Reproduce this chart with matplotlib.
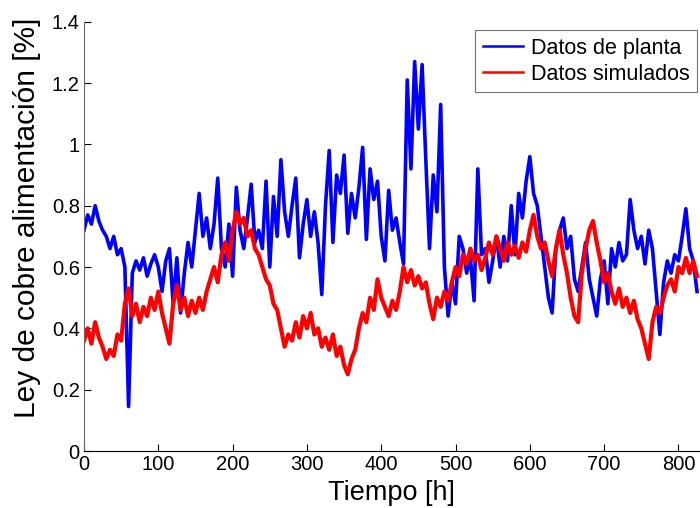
import numpy as np
import matplotlib
matplotlib.use("Agg")
import matplotlib.pyplot as plt

plt.rcParams.update({"font.family": ["Liberation Sans", "DejaVu Sans"]})

# tiempo [h], muestreo cada 5 h
tiempo = np.arange(0, 830, 5)

planta = [
    0.72, 0.77, 0.74, 0.80, 0.75, 0.72, 0.70, 0.66, 0.70, 0.64,
    0.66, 0.60, 0.145, 0.58, 0.62, 0.59, 0.63, 0.57, 0.61, 0.64,
    0.60, 0.52, 0.62, 0.66, 0.48, 0.63, 0.45, 0.58, 0.68, 0.60,
    0.72, 0.84, 0.70, 0.76, 0.66, 0.74, 0.89, 0.66, 0.60, 0.74,
    0.57, 0.86, 0.72, 0.66, 0.76, 0.87, 0.68, 0.72, 0.66, 0.88,
    0.60, 0.83, 0.70, 0.95, 0.78, 0.70, 0.80, 0.89, 0.63, 0.74,
    0.82, 0.70, 0.78, 0.68, 0.51, 0.80, 0.98, 0.68, 0.90, 0.84,
    0.965, 0.71, 0.84, 0.76, 0.86, 0.99, 0.69, 0.92, 0.82, 0.88,
    0.70, 0.62, 0.85, 0.72, 0.76, 0.68, 0.61, 1.21, 0.92, 1.27,
    1.05, 1.26, 0.95, 0.66, 0.90, 0.78, 1.13, 0.60, 0.44, 0.55,
    0.48, 0.70, 0.66, 0.58, 0.63, 0.49, 0.92, 0.64, 0.66, 0.55,
    0.62, 0.70, 0.60, 0.70, 0.62, 0.80, 0.64, 0.84, 0.76, 0.88,
    0.96, 0.84, 0.80, 0.70, 0.60, 0.50, 0.45, 0.66, 0.72, 0.76,
    0.66, 0.70, 0.56, 0.52, 0.60, 0.68, 0.56, 0.50, 0.44, 0.56,
    0.62, 0.48, 0.66, 0.60, 0.68, 0.62, 0.64, 0.82, 0.72, 0.66,
    0.70, 0.61, 0.72, 0.66, 0.52, 0.38, 0.55, 0.62, 0.58, 0.64,
    0.62, 0.70, 0.79, 0.66, 0.62, 0.52,
]

simulados = [
    0.36, 0.40, 0.35, 0.42, 0.37, 0.34, 0.30, 0.33, 0.31, 0.38,
    0.36, 0.48, 0.53, 0.44, 0.48, 0.42, 0.47, 0.44, 0.50, 0.46,
    0.52, 0.45, 0.40, 0.35, 0.48, 0.54, 0.46, 0.50, 0.44, 0.49,
    0.45, 0.50, 0.46, 0.52, 0.56, 0.60, 0.55, 0.64, 0.68, 0.62,
    0.72, 0.78, 0.74, 0.76, 0.70, 0.72, 0.66, 0.64, 0.60, 0.56,
    0.54, 0.48, 0.46, 0.40, 0.34, 0.38, 0.36, 0.42, 0.37, 0.44,
    0.40, 0.45, 0.38, 0.40, 0.34, 0.37, 0.33, 0.38, 0.31, 0.34,
    0.28, 0.25, 0.30, 0.33, 0.40, 0.45, 0.42, 0.50, 0.46, 0.56,
    0.50, 0.47, 0.44, 0.49, 0.46, 0.52, 0.60, 0.55, 0.59, 0.54,
    0.57, 0.53, 0.55, 0.48, 0.43, 0.50, 0.47, 0.52, 0.49, 0.55,
    0.60, 0.57, 0.64, 0.61, 0.66, 0.62, 0.64, 0.59, 0.63, 0.68,
    0.64, 0.70, 0.66, 0.62, 0.68, 0.64, 0.67, 0.63, 0.68, 0.65,
    0.72, 0.77, 0.70, 0.66, 0.68, 0.62, 0.57, 0.66, 0.72, 0.64,
    0.58, 0.50, 0.44, 0.42, 0.58, 0.66, 0.72, 0.75, 0.68, 0.62,
    0.55, 0.58, 0.52, 0.48, 0.53, 0.47, 0.50, 0.45, 0.49, 0.43,
    0.40, 0.35, 0.30, 0.42, 0.47, 0.45, 0.50, 0.54, 0.56, 0.52,
    0.60, 0.58, 0.63, 0.58, 0.62, 0.57,
]

XTICKS = [0, 100, 200, 300, 400, 500, 600, 700, 800]
YTICKS = [0, 0.2, 0.4, 0.6, 0.8, 1.0, 1.2, 1.4]
YLAB = ["0", "0.2", "0.4", "0.6", "0.8", "1", "1.2", "1.4"]

fig = plt.figure(figsize=(7.0, 5.08), dpi=100)
ax = fig.add_axes([0.12, 0.1122, 0.88, 0.8451])
ax.plot(tiempo, planta, color="#0000ff", lw=2.6, label="Datos de planta")
ax.plot(tiempo, simulados, color="#ff0000", lw=3.0, label="Datos simulados")

ax.set_xlim(0, 829)
ax.set_ylim(0, 1.4)
ax.set_xticks(XTICKS)
ax.set_yticks(YTICKS)
ax.set_yticklabels(YLAB)
ax.tick_params(direction="in", length=5, width=0.8, labelsize=14.5, pad=3)
ax.spines[["top", "right"]].set_visible(False)
ax.spines["left"].set_color("0.4")
ax.spines["bottom"].set_color("k")

fig.text(391 / 700, 1 - 493 / 508, "Tiempo [h]", fontsize=19.5,
         ha="center", va="center")
fig.text(27 / 700, 1 - 218 / 508, "Ley de cobre alimentación [%]",
         fontsize=21.5, rotation=90, ha="center", va="center")

leg = ax.legend(loc="upper left", bbox_to_anchor=(475 / 700, 1 - 30 / 508),
                bbox_transform=fig.transFigure, fontsize=15.5, frameon=True,
                fancybox=False, borderaxespad=0, handlelength=1.9,
                handletextpad=0.35, labelspacing=0.25, borderpad=0.35)
leg.get_frame().set_edgecolor("0.3")
leg.get_frame().set_linewidth(0.8)
for line in leg.get_lines():
    line.set_linewidth(1.8)

fig.savefig("out.png", dpi=100)
